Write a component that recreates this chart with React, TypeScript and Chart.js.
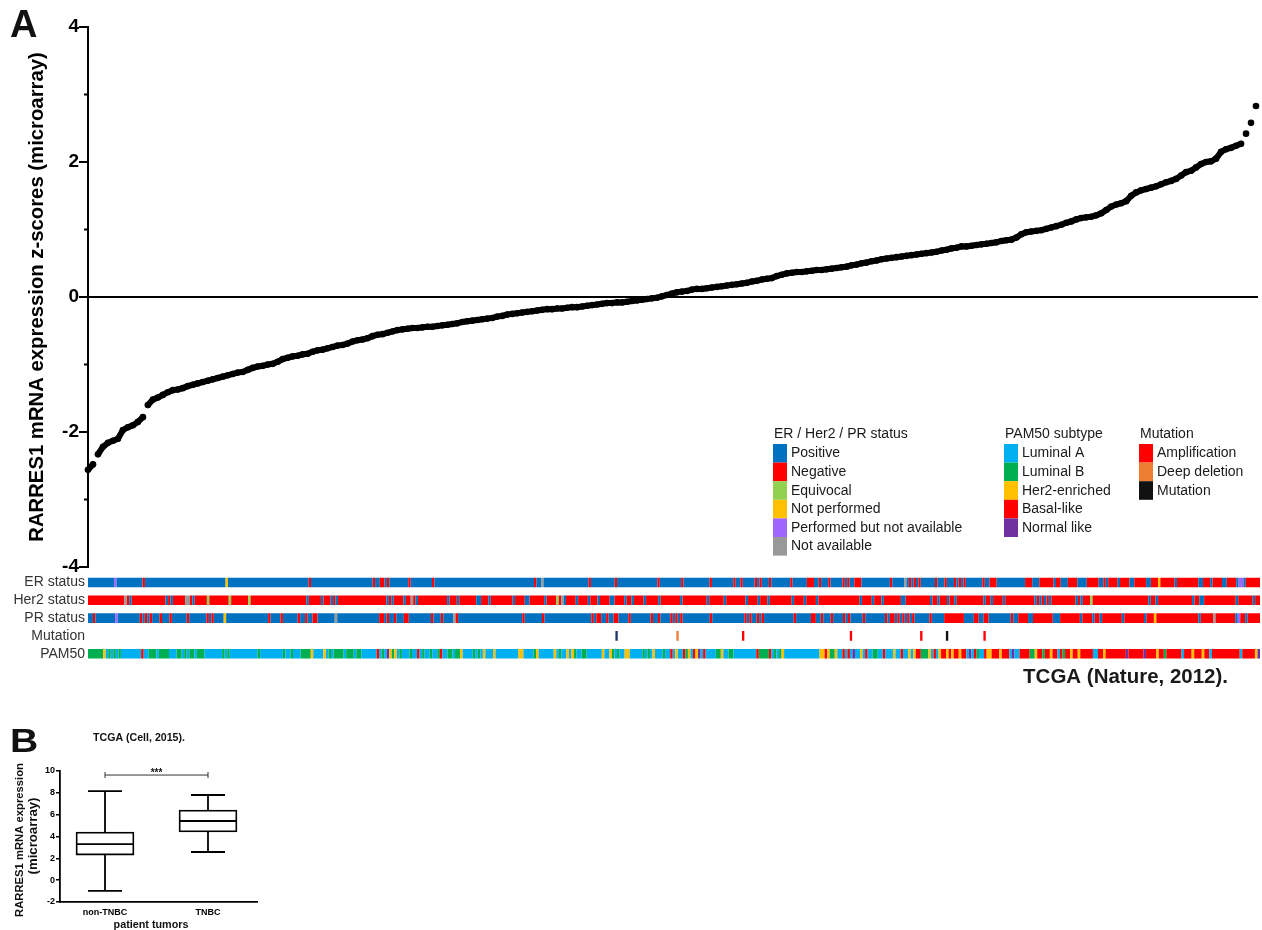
import React, { useEffect, useRef } from "react";
import { Chart, registerables } from "chart.js";
Chart.register(...registerables);

const FONT = "'Liberation Sans', Arial, Helvetica, sans-serif";

// ---------------- Panel A data ----------------
const RARRES1_Z = [
  -2.56, -2.48, -2.33, -2.22, -2.16, -2.13, -2.10, -1.97, -1.93, -1.90,
  -1.85, -1.78, -1.60, -1.52, -1.49, -1.45, -1.41, -1.38, -1.37, -1.35,
  -1.32, -1.30, -1.28, -1.26, -1.24, -1.22, -1.20, -1.18, -1.16, -1.14,
  -1.12, -1.11, -1.08, -1.05, -1.03, -1.02, -1.00, -0.99, -0.96, -0.92,
  -0.90, -0.88, -0.87, -0.85, -0.84, -0.81, -0.79, -0.78, -0.76, -0.74,
  -0.72, -0.71, -0.69, -0.66, -0.64, -0.63, -0.61, -0.58, -0.56, -0.55,
  -0.53, -0.51, -0.49, -0.48, -0.47, -0.46, -0.46, -0.45, -0.44, -0.44,
  -0.43, -0.42, -0.41, -0.40, -0.39, -0.37, -0.36, -0.35, -0.34, -0.33,
  -0.32, -0.31, -0.29, -0.28, -0.26, -0.25, -0.24, -0.23, -0.22, -0.21,
  -0.20, -0.19, -0.18, -0.18, -0.17, -0.17, -0.16, -0.15, -0.15, -0.14,
  -0.13, -0.12, -0.11, -0.10, -0.09, -0.09, -0.08, -0.08, -0.07, -0.06,
  -0.05, -0.04, -0.03, -0.02, -0.01, 0.01, 0.03, 0.05, 0.07, 0.08,
  0.09, 0.11, 0.12, 0.12, 0.13, 0.14, 0.15, 0.16, 0.17, 0.18,
  0.19, 0.20, 0.21, 0.23, 0.24, 0.26, 0.27, 0.28, 0.31, 0.33,
  0.35, 0.36, 0.37, 0.37, 0.38, 0.39, 0.40, 0.40, 0.41, 0.42,
  0.43, 0.44, 0.45, 0.47, 0.48, 0.50, 0.51, 0.53, 0.54, 0.56,
  0.57, 0.58, 0.59, 0.60, 0.61, 0.62, 0.63, 0.64, 0.65, 0.66,
  0.67, 0.69, 0.70, 0.72, 0.73, 0.75, 0.75, 0.76, 0.77, 0.78,
  0.79, 0.80, 0.81, 0.83, 0.84, 0.85, 0.88, 0.93, 0.96, 0.97,
  0.98, 0.99, 1.01, 1.03, 1.05, 1.07, 1.10, 1.12, 1.15, 1.17,
  1.18, 1.19, 1.21, 1.24, 1.29, 1.34, 1.37, 1.39, 1.42, 1.50,
  1.55, 1.58, 1.60, 1.62, 1.64, 1.67, 1.70, 1.72, 1.75, 1.80,
  1.85, 1.87, 1.92, 1.97, 2.00, 2.01, 2.05, 2.15, 2.19, 2.21,
  2.24, 2.27, 2.42, 2.58, 2.83,
];
const Y_MIN_A = -4;
const Y_MAX_A = 4;
const Y_TITLE_A = "RARRES1 mRNA expression z-scores (microarray)";

// ---------------- Tracks ----------------
const TRACK_NAMES = ["ER status", "Her2 status", "PR status", "Mutation", "PAM50"];
const N_PATIENTS = 500;

// P=Positive N=Negative E=Equivocal O=Not performed U=Performed but not available A=Not available
const ER_RUNS =
  "P11 U1 P11 N1 P34 O1 P34 N1 P26 N1 P2 N2 P1 N1 P8 N1 P9 N1 P42 N1 P2 A1 P19 N1 P10 N1 P17 N1 P9 N1 P11 N1 P9 N1 P2 N1 P5 N1 P1 N1 P3 N1 P8 N1 P6 N3 P2 N1 P3 N1 P5 N1 P1 N1 P2 N3 P12 N1 P5 A1 P1 N1 P1 N1 P1 N1 P6 N1 P3 N1 P3 N1 P1 N1 P1 N1 P7 N1 P2 N3 P12 N3 P3 N6 P1 N2 P3 N4 P4 N5 P2 N1 P1 N4 P1 N4 P2 N5 P2 N3 O1 N6 P1 N9 P2 N3 P1 N4 P2 N4 P1 U2 P1 N6";
const HER2_RUNS =
  "N15 A1 N1 P1 N14 P1 N1 P1 N5 A2 N1 P1 N5 E1 N8 E1 N7 E1 N23 P1 N5 P1 N3 P1 N1 P1 N20 P1 N1 P1 N4 P1 N2 A1 N1 P1 N12 P1 N3 P1 N7 P2 N3 P1 N9 P1 N4 P2 N6 P1 N4 E1 N1 A1 P1 N4 P1 N4 P1 N3 P1 N4 P2 N4 P1 N2 P1 N4 P1 N5 P1 N8 P1 N10 P1 N6 P1 N8 P1 N4 P1 N3 P1 N9 P1 N4 P1 N4 P1 N17 P1 N4 P1 N3 P1 N7 P2 N10 P1 N2 P1 N3 P1 N2 P1 N11 P1 N2 P1 N4 P1 N12 P1 N1 P1 N1 P1 N1 P1 N10 P1 N1 P1 N3 E1 N23 P1 N2 P1 N14 P1 N2 P2 N13 P1 N6 P1 N2";
const PR_RUNS =
  "P2 N1 P8 U1 P9 N1 P1 N1 P1 N1 P3 N1 P3 N1 P6 N1 P7 N1 P1 N1 P4 O1 P17 N1 P4 N1 P6 N1 P2 N1 P2 N2 P7 A1 P17 N2 P1 N1 P2 N1 P3 N2 P9 N1 P3 N1 P4 A1 N1 P26 N1 P7 N1 P19 N1 P1 N2 P2 N1 P2 N2 P4 N1 P8 N1 P2 N1 P4 N1 P1 N1 P1 N1 P11 N1 P13 N1 P1 N1 P2 N1 P1 N1 P12 N1 P6 N2 P2 N1 P3 N1 P4 N1 P1 N1 P5 N1 P8 N1 P1 N2 P1 N1 P1 N1 P1 N1 P1 N1 P6 N1 P5 N8 P4 N2 P2 N2 P9 N1 P2 N4 P2 N8 P3 N8 P1 N4 P1 N2 P1 N8 P1 N8 P1 N3 O1 N17 P1 N5 A1 N8 P1 U1 N2 P1 N5";
// A=Luminal A B=Luminal B H=Her2-enriched S=Basal-like L=Normal like
const PAM50_RUNS =
  "B6 H1 A1 B1 A1 B1 A1 B1 A8 S1 A2 B3 A1 B4 A3 B2 A1 B1 A1 B2 A1 B3 A7 B1 A1 B1 A11 B1 A9 B1 A2 B1 A3 B4 H1 A4 H1 A1 B1 A1 B4 A1 B3 A1 B2 A6 S1 A1 B1 A1 L1 H1 B1 H1 A1 B1 A3 B1 A2 S1 A1 B1 A2 " +
  "B1 A2 B1 S1 A2 B2 A1 B2 H1 A4 B1 A1 B1 A1 H1 A3 H1 A9 H2 A4 B1 H1 A6 H1 A1 B1 A2 H1 A1 H1 B1 A2 B2 A6 H1 A2 H1 B1 A1 B1 A2 H2 A5 B1 A1 B1 A1 H1 A3 B1 A2 S1 A1 H1 A2 S1 B1 H1 A1 S1 H1 L1 A1 S1 A4 B2 H1 A2 B2 A9 S1 B4 S1 A1 B1 A1 B1 H1 A14 H2 S1 H1 B2 H1 A2 S1 A1 S1 A1 " +
  "L1 A2 H1 A1 S1 A2 B2 A2 S1 A3 H1 A2 S1 A2 H1 A1 H1 S2 B3 H1 A1 S1 A1 H1 S2 H1 S1 H1 S2 H1 S2 A1 L1 A1 S1 B1 A2 S1 H2 S3 H1 S3 A1 L1 A2 S4 B2 H1 S2 B1 S2 H1 S2 A1 S1 B1 S2 H1 S2 H1 S5 A2 S2 H1 S8 L1 S6 L1 S4 H1 S2 B1 S6 A1 S3 H1 S3 H1 S2 A1 S11 A1 S5 H1 L1";
const MUTATION_POS = [225, 251, 279, 325, 355, 366, 382];
const MUTATION_KIND = ["multiple", "deletion", "amplification", "amplification", "amplification", "mutation", "amplification"];

// ---------------- Legends ----------------
const STATUS_TITLE = "ER / Her2 / PR status";
const STATUS_CODES = ["P", "N", "E", "O", "U", "A"];
const STATUS_LABELS = ["Positive", "Negative", "Equivocal", "Not performed", "Performed but not available", "Not available"];
const STATUS_COLORS = ["#0070C0", "#FF0000", "#92D050", "#FFC000", "#A066FF", "#999999"];
const PAM50_TITLE = "PAM50 subtype";
const PAM50_CODES = ["A", "B", "H", "S", "L"];
const PAM50_LABELS = ["Luminal A", "Luminal B", "Her2-enriched", "Basal-like", "Normal like"];
const PAM50_COLORS = ["#00B0F0", "#00B050", "#FFC000", "#FF0000", "#7030A0"];
const MUT_TITLE = "Mutation";
const MUT_KINDS = ["amplification", "deletion", "mutation", "multiple"];
const MUT_LABELS = ["Amplification", "Deep deletion", "Mutation"];
const MUT_COLORS = ["#FF0000", "#ED7D31", "#111111", "#1F3864"];

// ---------------- Panel B data ----------------
const BOX_GROUPS = ["non-TNBC", "TNBC"];
const BOX_MIN = [-0.99, 2.58];
const BOX_Q1 = [2.3, 4.41];
const BOX_MEDIAN = [3.31, 5.42];
const BOX_Q3 = [4.41, 6.42];
const BOX_MAX = [8.16, 7.8];
const BOX_SIG_Y = 9.63;
const BOX_SIG_LABEL = "***";
const B_Y_TICKS = [-2, 0, 2, 4, 6, 8, 10];

function fitFont(ctx: CanvasRenderingContext2D, text: string, weight: string, target: number) {
  ctx.font = `${weight} 20px ${FONT}`;
  const w = ctx.measureText(text).width;
  const size = (20 * target) / w;
  ctx.font = `${weight} ${size}px ${FONT}`;
}

function parseRuns(s: string) {
  return s.trim().split(/\s+/).map((t) => ({ c: t[0], n: parseInt(t.slice(1), 10) }));
}

// ---------------- Panel A ----------------
const decorA = {
  id: "decorA",
  afterDraw(chart: any) {
    const ctx: CanvasRenderingContext2D = chart.ctx;
    const y = chart.scales.y;
    const left = chart.chartArea.left;
    ctx.save();
    ctx.strokeStyle = "#000";
    ctx.lineWidth = 2;
    for (let v = Y_MIN_A; v <= Y_MAX_A; v++) {
      const py = y.getPixelForValue(v);
      const len = v % 2 === 0 ? 9 : 4;
      ctx.beginPath();
      ctx.moveTo(left - len, py);
      ctx.lineTo(left, py);
      ctx.stroke();
    }
    // panel letter
    ctx.fillStyle = "#111";
    ctx.font = `bold 38px ${FONT}`;
    ctx.textAlign = "left";
    ctx.textBaseline = "alphabetic";
    ctx.fillText("A", 10, 37);
    // y title
    ctx.save();
    ctx.translate(43, (y.top + y.bottom) / 2);
    ctx.rotate(-Math.PI / 2);
    fitFont(ctx, Y_TITLE_A, "bold", 490);
    ctx.textAlign = "center";
    ctx.fillStyle = "#000";
    ctx.fillText(Y_TITLE_A, 0, 0);
    ctx.restore();
    // legend
    const col = (x: number, title: string, labels: string[], colors: string[]) => {
      ctx.font = `14px ${FONT}`;
      ctx.textBaseline = "middle";
      ctx.textAlign = "left";
      ctx.fillStyle = "#1a1a1a";
      ctx.fillText(title, x + 1, 434);
      labels.forEach((l, i) => {
        const top = 444 + i * 18.6;
        ctx.fillStyle = colors[i];
        ctx.fillRect(x, top, 14, 18.6);
        ctx.fillStyle = "#1a1a1a";
        ctx.fillText(l, x + 18, top + 9.6);
      });
    };
    col(773, STATUS_TITLE, STATUS_LABELS, STATUS_COLORS);
    col(1004, PAM50_TITLE, PAM50_LABELS, PAM50_COLORS);
    col(1139, MUT_TITLE, MUT_LABELS, MUT_COLORS);
    ctx.restore();
  },
};

function PanelA() {
  const ref = useRef<HTMLCanvasElement>(null);
  useEffect(() => {
    const chart = new Chart(ref.current as HTMLCanvasElement, {
      type: "scatter",
      data: {
        datasets: [
          {
            data: RARRES1_Z.map((v, i) => ({ x: i, y: v })),
            pointRadius: 3.3,
            pointBackgroundColor: "#000",
            pointBorderWidth: 0,
            showLine: true,
            borderColor: "#000",
            borderWidth: 6,
            borderCapStyle: "round",
            segment: {
              borderColor: (c: any) => (Math.abs(c.p1.y - c.p0.y) > 9.5 ? "rgba(0,0,0,0)" : "#000"),
            },
            clip: false as any,
          },
        ],
      },
      options: {
        responsive: false,
        animation: false,
        events: [],
        layout: { padding: { top: 27, bottom: 33, right: 2, left: 0 } },
        plugins: { legend: { display: false }, tooltip: { enabled: false } },
        scales: {
          x: { type: "linear", display: false, min: 0, max: (RARRES1_Z.length - 1) * (1172 / 1170) },
          y: {
            min: Y_MIN_A,
            max: Y_MAX_A,
            afterFit: (s: any) => {
              s.width = 88;
              s.paddingTop = 0;
              s.paddingBottom = 0;
            },
            ticks: {
              stepSize: 1,
              autoSkip: false,
              padding: 9,
              color: "#000",
              font: { family: FONT, size: 19, weight: "bold" },
              callback: (v: any) => (Number(v) % 2 === 0 ? String(v) : ""),
            },
            grid: {
              drawTicks: false,
              lineWidth: 2,
              color: (c: any) => (c.tick && c.tick.value === 0 ? "#000" : "rgba(0,0,0,0)"),
            },
            border: { color: "#000", width: 2 },
          },
        },
      } as any,
      plugins: [decorA],
    });
    return () => chart.destroy();
  }, []);
  return <canvas ref={ref} width={1262} height={600} style={{ position: "absolute", left: 0, top: 0 }} />;
}

// ---------------- Tracks ----------------
const tracksText = {
  id: "tracksText",
  afterDraw(chart: any) {
    const ctx: CanvasRenderingContext2D = chart.ctx;
    ctx.save();
    fitFont(ctx, "TCGA (Nature, 2012).", "bold", 205);
    ctx.fillStyle = "#1a1a1a";
    ctx.textAlign = "right";
    ctx.textBaseline = "middle";
    ctx.fillText("TCGA (Nature, 2012).", 1228, 104);
    ctx.restore();
  },
};

function Tracks() {
  const ref = useRef<HTMLCanvasElement>(null);
  useEffect(() => {
    const bars: any[] = [];
    const colors: string[] = [];
    const addTrack = (name: string, runs: { c: string; n: number }[], colorOf: (c: string) => string) => {
      const total = runs.reduce((a, r) => a + r.n, 0);
      const f = N_PATIENTS / total;
      let s = 0;
      for (const r of runs) {
        bars.push({ x: [s * f, (s + r.n) * f], y: name });
        colors.push(colorOf(r.c));
        s += r.n;
      }
    };
    const statusColor = (c: string) => STATUS_COLORS[STATUS_CODES.indexOf(c)];
    const pamColor = (c: string) => PAM50_COLORS[PAM50_CODES.indexOf(c)];
    addTrack(TRACK_NAMES[0], parseRuns(ER_RUNS), statusColor);
    addTrack(TRACK_NAMES[1], parseRuns(HER2_RUNS), statusColor);
    addTrack(TRACK_NAMES[2], parseRuns(PR_RUNS), statusColor);
    MUTATION_POS.forEach((p, i) => {
      bars.push({ x: [p, p + 1], y: TRACK_NAMES[3] });
      colors.push(MUT_COLORS[MUT_KINDS.indexOf(MUTATION_KIND[i])]);
    });
    addTrack(TRACK_NAMES[4], parseRuns(PAM50_RUNS), pamColor);

    const chart = new Chart(ref.current as HTMLCanvasElement, {
      type: "bar",
      data: {
        labels: TRACK_NAMES,
        datasets: [
          {
            data: bars,
            backgroundColor: colors,
            borderWidth: 0,
            barPercentage: 0.54,
            categoryPercentage: 1,
          },
        ],
      },
      options: {
        indexAxis: "y",
        responsive: false,
        animation: false,
        events: [],
        layout: { padding: { top: 0.6, bottom: 37.4, right: 2, left: 0 } },
        plugins: { legend: { display: false }, tooltip: { enabled: false } },
        scales: {
          x: { type: "linear", min: 0, max: N_PATIENTS, display: false },
          y: {
            type: "category",
            afterFit: (s: any) => {
              s.width = 88;
              s.paddingTop = 0;
              s.paddingBottom = 0;
            },
            grid: { display: false, drawTicks: false },
            border: { display: false },
            ticks: { autoSkip: false, padding: 3, color: "#333", font: { family: FONT, size: 14 } },
          },
        },
      } as any,
      plugins: [tracksText],
    });
    return () => chart.destroy();
  }, []);
  return <canvas ref={ref} width={1262} height={127} style={{ position: "absolute", left: 0, top: 573 }} />;
}

// ---------------- Panel B ----------------
const BOX_W = 58;
const CAP_HALF = 17;
const boxExtras = {
  id: "boxExtras",
  afterDatasetsDraw(chart: any) {
    const ctx: CanvasRenderingContext2D = chart.ctx;
    const x = chart.scales.x;
    const y = chart.scales.y;
    ctx.save();
    ctx.strokeStyle = "#000";
    ctx.lineWidth = 1.8;
    const line = (x1: number, y1: number, x2: number, y2: number) => {
      ctx.beginPath();
      ctx.moveTo(x1, y1);
      ctx.lineTo(x2, y2);
      ctx.stroke();
    };
    BOX_GROUPS.forEach((_, i) => {
      const cx = x.getPixelForValue(i);
      const yMax = y.getPixelForValue(BOX_MAX[i]);
      const yMin = y.getPixelForValue(BOX_MIN[i]);
      line(cx, y.getPixelForValue(BOX_Q3[i]), cx, yMax);
      line(cx - CAP_HALF, yMax, cx + CAP_HALF, yMax);
      line(cx, y.getPixelForValue(BOX_Q1[i]), cx, yMin);
      line(cx - CAP_HALF, yMin, cx + CAP_HALF, yMin);
      const ym = y.getPixelForValue(BOX_MEDIAN[i]);
      line(cx - BOX_W / 2, ym, cx + BOX_W / 2, ym);
    });
    // significance bracket
    ctx.lineWidth = 1;
    ctx.strokeStyle = "#333";
    const x0 = x.getPixelForValue(0);
    const x1 = x.getPixelForValue(1);
    const yb = y.getPixelForValue(BOX_SIG_Y);
    line(x0, yb, x1, yb);
    line(x0, yb - 3, x0, yb + 3);
    line(x1, yb - 3, x1, yb + 3);
    ctx.fillStyle = "#111";
    ctx.font = `bold 10px ${FONT}`;
    ctx.textAlign = "center";
    ctx.textBaseline = "alphabetic";
    ctx.fillText(BOX_SIG_LABEL, (x0 + x1) / 2, yb + 1);
    ctx.restore();
  },
  afterDraw(chart: any) {
    const ctx: CanvasRenderingContext2D = chart.ctx;
    ctx.save();
    ctx.fillStyle = "#111";
    // panel letter
    ctx.save();
    ctx.translate(10, 32);
    ctx.scale(1.15, 1);
    ctx.font = `bold 34px ${FONT}`;
    ctx.textAlign = "left";
    ctx.textBaseline = "alphabetic";
    ctx.fillText("B", 0, 0);
    ctx.restore();
    // title
    fitFont(ctx, "TCGA (Cell, 2015).", "bold", 92);
    ctx.textAlign = "center";
    ctx.textBaseline = "middle";
    ctx.fillText("TCGA (Cell, 2015).", 139, 18);
    // y title
    ctx.save();
    ctx.translate(20, 120);
    ctx.rotate(-Math.PI / 2);
    fitFont(ctx, "RARRES1 mRNA expression", "bold", 154);
    ctx.fillText("RARRES1 mRNA expression", 0, 0);
    ctx.restore();
    ctx.save();
    ctx.translate(33, 116);
    ctx.rotate(-Math.PI / 2);
    fitFont(ctx, "(microarray)", "bold", 77);
    ctx.fillText("(microarray)", 0, 0);
    ctx.restore();
    // x title
    fitFont(ctx, "patient tumors", "bold", 75);
    ctx.textBaseline = "alphabetic";
    ctx.fillText("patient tumors", 151, 208);
    ctx.restore();
  },
};

function PanelB() {
  const ref = useRef<HTMLCanvasElement>(null);
  useEffect(() => {
    const chart = new Chart(ref.current as HTMLCanvasElement, {
      type: "bar",
      data: {
        datasets: [
          {
            data: BOX_GROUPS.map((_, i) => ({ x: i, y: [BOX_Q1[i], BOX_Q3[i]] })),
            backgroundColor: "#fff",
            borderColor: "#000",
            borderWidth: 1.8,
            borderSkipped: false,
            barThickness: BOX_W,
          },
        ],
      },
      options: {
        responsive: false,
        animation: false,
        events: [],
        layout: { padding: { top: 51, bottom: 0, right: 5, left: 0 } },
        plugins: { legend: { display: false }, tooltip: { enabled: false } },
        scales: {
          x: {
            type: "linear",
            offset: false,
            min: -45 / 103,
            max: 1 + 49 / 103,
            afterBuildTicks: (s: any) => {
              s.ticks = BOX_GROUPS.map((_, i) => ({ value: i }));
            },
            afterFit: (s: any) => {
              s.height = 28;
              s.paddingLeft = 0;
              s.paddingRight = 0;
            },
            grid: { display: false, drawTicks: false, offset: false },
            border: { color: "#000", width: 1.8 },
            ticks: {
              padding: 5,
              color: "#000",
              font: { family: FONT, size: 9, weight: "bold" },
              callback: (v: any) => BOX_GROUPS[Number(v)] ?? "",
            },
          },
          y: {
            min: -2,
            max: 10,
            afterBuildTicks: (s: any) => {
              s.ticks = B_Y_TICKS.map((v) => ({ value: v }));
            },
            afterFit: (s: any) => {
              s.width = 60;
            },
            grid: { drawOnChartArea: false, drawTicks: true, tickLength: 4, color: "#000", lineWidth: 1.5 },
            border: { color: "#000", width: 1.8 },
            ticks: {
              padding: 1,
              color: "#000",
              font: { family: FONT, size: 9, weight: "bold" },
            },
          },
        },
      } as any,
      plugins: [boxExtras],
    });
    return () => chart.destroy();
  }, []);
  return <canvas ref={ref} width={262} height={210} style={{ position: "absolute", left: 0, top: 720 }} />;
}

export default function App() {
  return (
    <div
      style={{
        position: "fixed",
        left: 0,
        top: 0,
        width: 1262,
        height: 930,
        background: "#fff",
        overflow: "hidden",
      }}
    >
      <PanelA />
      <Tracks />
      <PanelB />
    </div>
  );
}
